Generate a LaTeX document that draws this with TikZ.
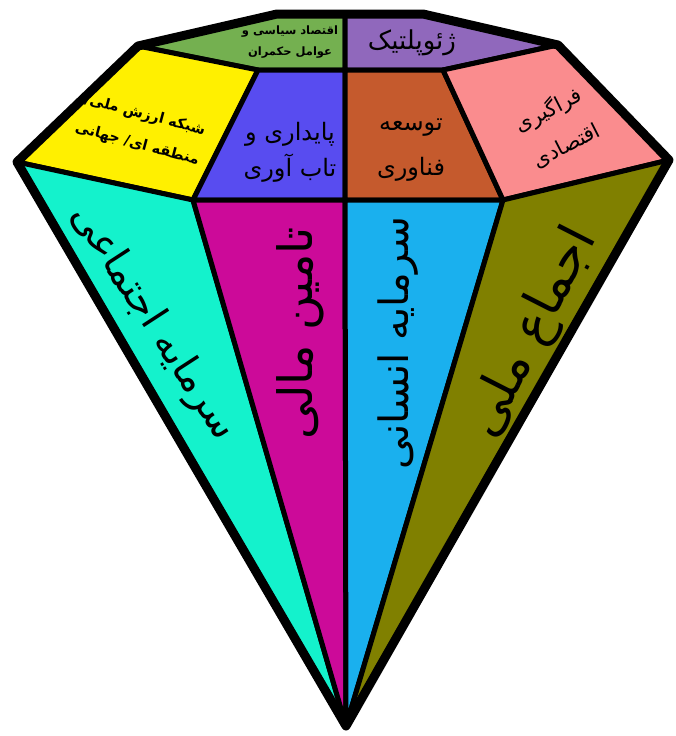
\documentclass[tikz,border=0pt]{standalone}
\usepackage{graphicx}
\usepackage{fontspec}
\newfontfamily\fafont[Script=Arabic]{DejaVu Sans}
\TeXXeTstate=1
\newcommand\fat[1]{{\fafont\beginR #1\endR}}
\newcommand\fab[1]{{\fafont\bfseries\beginR #1\endR}}
\definecolor{cGreen}{HTML}{74B050}
\definecolor{cPurple}{HTML}{9068BC}
\definecolor{cYellow}{HTML}{FFF000}
\definecolor{cBlue}{HTML}{584CF0}
\definecolor{cBrown}{HTML}{C55A2D}
\definecolor{cPink}{HTML}{FA8C8E}
\definecolor{cCyan}{HTML}{14F2CC}
\definecolor{cMagenta}{HTML}{CC0A99}
\definecolor{cSky}{HTML}{1AB0EE}
\definecolor{cOlive}{HTML}{808000}
\begin{document}
\begin{tikzpicture}[x=1pt,y=1pt,
  face/.style={draw=black, line width=5pt, line join=round},
  rim/.style={draw=black, line width=9pt, line join=round},
  lbl/.style={inner sep=0pt, align=center, text=black}]
\useasboundingbox (0,0) rectangle (675,-736);
% vertices
\coordinate (L) at (17,-162);
\coordinate (A) at (138,-46);
\coordinate (B) at (277,-14);
\coordinate (C) at (345,-14);
\coordinate (D) at (423,-14);
\coordinate (E) at (558,-45);
\coordinate (R) at (669,-160);
\coordinate (P) at (346,-726);
\coordinate (G1) at (258,-70);
\coordinate (G2) at (345,-70);
\coordinate (G3) at (443,-70);
\coordinate (H1) at (193,-200);
\coordinate (H2) at (345,-200);
\coordinate (H3) at (503,-200);
% faces
\path[face, fill=cGreen] (A)--(B)--(C)--(G2)--(G1)--cycle;
\path[face, fill=cPurple] (C)--(D)--(E)--(G3)--(G2)--cycle;
\path[face, fill=cYellow] (L)--(A)--(G1)--(H1)--cycle;
\path[face, fill=cBlue] (G1)--(G2)--(H2)--(H1)--cycle;
\path[face, fill=cBrown] (G2)--(G3)--(H3)--(H2)--cycle;
\path[face, fill=cPink] (G3)--(E)--(R)--(H3)--cycle;
\path[face, fill=cCyan] (L)--(H1)--(P)--cycle;
\path[face, fill=cMagenta] (H1)--(H2)--(P)--cycle;
\path[face, fill=cSky] (H2)--(H3)--(P)--cycle;
\path[face, fill=cOlive] (H3)--(R)--(P)--cycle;
\path[rim] (L)--(A)--(B)--(D)--(E)--(R)--(P)--cycle;
% labels
\node[lbl, font=\fontsize{11.5}{21}\selectfont] (tGreen) at (290,-42)
  {\fab{اقتصاد سیاسی و}\\\fab{عوامل حکمران}};
\node[lbl, font=\fontsize{26}{30}\selectfont] (tPurple) at (412,-43)
  {\fat{ژئوپلتیک}};
\node[lbl, font=\fontsize{14.5}{30}\selectfont, rotate=-15] (tYellow) at (141,-130)
  {\fab{شبکه ارزش ملی/}\\\fab{منطقه ای/ جهانی}};
\node[lbl, font=\fontsize{24}{36}\selectfont] (tBlue) at (290,-152)
  {\fat{پایداری و}\\\fat{تاب آوری}};
\node[lbl, font=\fontsize{24}{45}\selectfont] (tBrown) at (411,-150)
  {\fat{توسعه}\\\fat{فناوری}};
\node[lbl, font=\fontsize{21}{40}\selectfont, rotate=27] (tPink) at (557,-127)
  {\fat{فراگیری}\\\fat{اقتصادی}};
\node[lbl, rotate=-57] (tCyan) at (153,-323)
  {\resizebox{272pt}{!}{\fat{سرمایه اجتماعی}}};
\node[lbl, rotate=90] (tMagenta) at (300,-333)
  {\resizebox{212pt}{!}{\fat{تامین مالی}}};
\node[lbl, rotate=90] (tSky) at (398,-343)
  {\resizebox{252pt}{!}{\fat{سرمایه انسانی}}};
\node[lbl, rotate=63] (tOlive) at (533,-333)
  {\resizebox{228pt}{!}{\fat{اجماع ملی}}};
\end{tikzpicture}
\end{document}
